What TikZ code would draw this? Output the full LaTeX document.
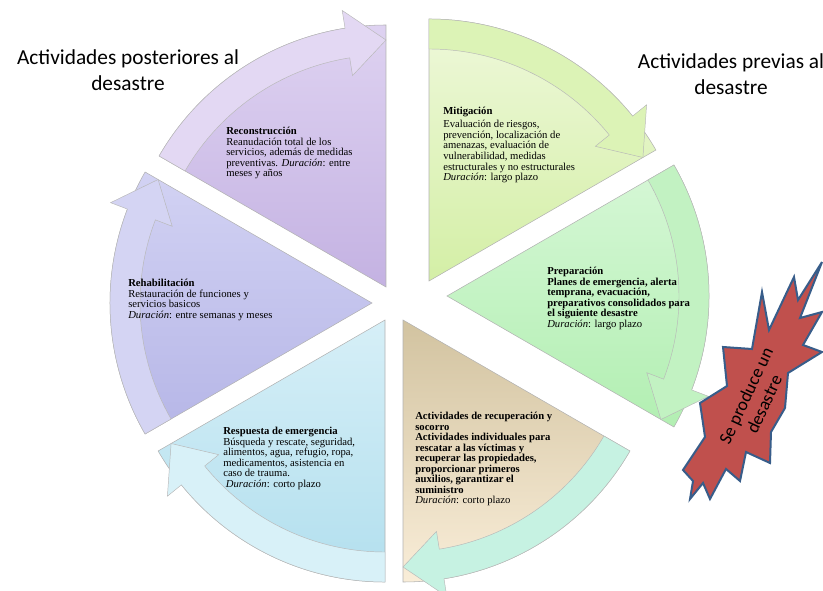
\documentclass[tikz,border=0pt]{standalone}
\usepackage{fontspec}
\setmainfont{Liberation Serif}
\newfontfamily\calibrifont{Carlito}
\usetikzlibrary{calc}

\definecolor{mitTop}{HTML}{EEF8DA}
\definecolor{mitBot}{HTML}{D4EFA6}
\definecolor{mitArrow}{HTML}{DCF3B6}
\definecolor{preTop}{HTML}{D6F7D6}
\definecolor{preBot}{HTML}{B2EFB2}
\definecolor{preArrow}{HTML}{C2F2C2}
\definecolor{recTop}{HTML}{D2C3A0}
\definecolor{recBot}{HTML}{F9EDD8}
\definecolor{recArrow}{HTML}{C6F2E2}
\definecolor{resTop}{HTML}{D6EFF7}
\definecolor{resBot}{HTML}{B2DFEE}
\definecolor{resArrow}{HTML}{D8F1F8}
\definecolor{rehTop}{HTML}{D2D2F3}
\definecolor{rehBot}{HTML}{B6B6E7}
\definecolor{rehArrow}{HTML}{D4D4F3}
\definecolor{recoTop}{HTML}{DED2F1}
\definecolor{recoBot}{HTML}{C4B2E2}
\definecolor{recoArrow}{HTML}{E3D8F3}
\definecolor{starFill}{HTML}{C0504D}
\definecolor{starLine}{HTML}{385D8A}

\tikzset{
  wedgeline/.style={draw=black!30, line width=0.4pt},
  bandline/.style={draw=black!28, line width=0.35pt},
  cycletext/.style={anchor=north west, inner sep=0pt, align=left, font=\fontsize{8}{7.9}\selectfont},
  sidetitle/.style={align=center, inner sep=0pt, font=\calibrifont\fontsize{16}{19.5}\selectfont},
}

\begin{document}
\begin{tikzpicture}[x=0.75pt,y=0.75pt,yscale=-1,xscale=1]
\useasboundingbox (0,0) rectangle (823,591);

%Apex of each segment
\coordinate (pMit) at (429,281);
\coordinate (pPre) at (447,296);
\coordinate (pRec) at (403,320);
\coordinate (pRes) at (385,320);
\coordinate (pReh) at (372,303);
\coordinate (pReco) at (386,287);

%Shape: Wedge [Mitigacion]
\draw [wedgeline, top color=mitTop, bottom color=mitBot] (pMit) -- ++(-90:262) arc[start angle=-90, end angle=-30, radius=262] -- cycle;
%Shape: Circular Arrow [Mitigacion]
\draw [bandline, fill=mitArrow] ($(pMit)+(-90:262)$) arc[start angle=-90, end angle=-39, radius=262] -- ($(pMit)+(-39:280)$) -- ($(pMit)+(-30:247)$) -- ($(pMit)+(-39:214)$) -- ($(pMit)+(-39:232)$) arc[start angle=-39, end angle=-90, radius=232] -- cycle;

%Shape: Wedge [Preparacion]
\draw [wedgeline, top color=preTop, bottom color=preBot] (pPre) -- ++(-30:262) arc[start angle=-30, end angle=30, radius=262] -- cycle;
%Shape: Circular Arrow [Preparacion]
\draw [bandline, fill=preArrow] ($(pPre)+(-30:262)$) arc[start angle=-30, end angle=21, radius=262] -- ($(pPre)+(21:280)$) -- ($(pPre)+(30:247)$) -- ($(pPre)+(21:214)$) -- ($(pPre)+(21:232)$) arc[start angle=21, end angle=-30, radius=232] -- cycle;

%Shape: Wedge [Recuperacion]
\draw [wedgeline, top color=recTop, bottom color=recBot] (pRec) -- ++(30:262) arc[start angle=30, end angle=90, radius=262] -- cycle;
%Shape: Circular Arrow [Recuperacion]
\draw [bandline, fill=recArrow] ($(pRec)+(30:262)$) arc[start angle=30, end angle=81, radius=262] -- ($(pRec)+(81:280)$) -- ($(pRec)+(90:247)$) -- ($(pRec)+(81:214)$) -- ($(pRec)+(81:232)$) arc[start angle=81, end angle=30, radius=232] -- cycle;

%Shape: Wedge [Respuesta]
\draw [wedgeline, top color=resTop, bottom color=resBot] (pRes) -- ++(90:262) arc[start angle=90, end angle=150, radius=262] -- cycle;
%Shape: Circular Arrow [Respuesta]
\draw [bandline, fill=resArrow] ($(pRes)+(90:262)$) arc[start angle=90, end angle=141, radius=262] -- ($(pRes)+(141:280)$) -- ($(pRes)+(150:247)$) -- ($(pRes)+(141:214)$) -- ($(pRes)+(141:232)$) arc[start angle=141, end angle=90, radius=232] -- cycle;

%Shape: Wedge [Rehabilitacion]
\draw [wedgeline, top color=rehTop, bottom color=rehBot] (pReh) -- ++(150:262) arc[start angle=150, end angle=210, radius=262] -- cycle;
%Shape: Circular Arrow [Rehabilitacion]
\draw [bandline, fill=rehArrow] ($(pReh)+(150:262)$) arc[start angle=150, end angle=201, radius=262] -- ($(pReh)+(201:280)$) -- ($(pReh)+(210:247)$) -- ($(pReh)+(201:214)$) -- ($(pReh)+(201:232)$) arc[start angle=201, end angle=150, radius=232] -- cycle;

%Shape: Wedge [Reconstruccion]
\draw [wedgeline, top color=recoTop, bottom color=recoBot] (pReco) -- ++(210:262) arc[start angle=210, end angle=270, radius=262] -- cycle;
%Shape: Circular Arrow [Reconstruccion]
\draw [bandline, fill=recoArrow] ($(pReco)+(210:262)$) arc[start angle=210, end angle=261, radius=262] -- ($(pReco)+(261:280)$) -- ($(pReco)+(270:247)$) -- ($(pReco)+(261:214)$) -- ($(pReco)+(261:232)$) arc[start angle=261, end angle=210, radius=232] -- cycle;

%Shape: Explosion
\draw [fill=starFill, draw=starLine, line width=1.5pt, line join=miter] (822,262) -- (800,318) -- (822,312) -- (803,345) -- (822,352) -- (788,373) -- (785,408) -- (771,432) -- (770,463) -- (746,452) -- (740,481) -- (726,469) -- (710,499) -- (703,483) -- (690,499) -- (693,481) -- (683,470) -- (705,437) -- (700,403) -- (727,386) -- (723,347) -- (752,349) -- (762,292) -- (769,330) -- (794,277) -- (798,300) -- cycle;

% Text Node
\draw (128,70) node [sidetitle] (posterior) {Actividades posteriores al\\desastre};
% Text Node
\draw (731,74) node [sidetitle] (previa) {Actividades previas al\\desastre};
% Text Node
\draw (755,400) node [rotate=65, align=center, inner sep=0pt, font=\calibrifont\fontsize{13.5}{15}\selectfont] (disaster) {Se produce un\\desastre};
% Text Node
\draw (443,107) node [cycletext] (mitig) {\textbf{Mitigación}\\[2pt]Evaluación de riesgos,\\prevención, localización de\\amenazas, evaluación de\\vulnerabilidad, medidas\\estructurales y no estructurales\\\textit{Duración}: largo plazo};
% Text Node
\draw (547,267) node [cycletext] (prep) {\textbf{Preparación}\\\textbf{Planes de emergencia, alerta}\\\textbf{temprana, evacuación,}\\\textbf{preparativos consolidados para}\\\textbf{el siguiente desastre}\\\textit{Duración}: largo plazo};
% Text Node
\draw (415,412) node [cycletext] (recup) {\textbf{Actividades de recuperación y}\\\textbf{socorro}\\\textbf{Actividades individuales para}\\\textbf{rescatar a las víctimas y}\\\textbf{recuperar las propiedades,}\\\textbf{proporcionar primeros}\\\textbf{auxilios, garantizar el}\\\textbf{suministro}\\\textit{Duración}: corto plazo};
% Text Node
\draw (223,427) node [cycletext] (resp) {\textbf{Respuesta de emergencia}\\Búsqueda y rescate, seguridad,\\alimentos, agua, refugio, ropa,\\medicamentos, asistencia en\\caso de trauma.\\\ \textit{Duración}: corto plazo};
% Text Node
\draw (128,279) node [cycletext] (rehab) {\textbf{Rehabilitación}\\Restauración de funciones y\\servicios basicos\\\textit{Duración}: entre semanas y meses};
% Text Node
\draw (226,127) node [cycletext] (recon) {\textbf{Reconstrucción}\\Reanudación total de los\\servicios, además de medidas\\preventivas. \textit{Duración}: entre\\meses y años};

\end{tikzpicture}
\end{document}
